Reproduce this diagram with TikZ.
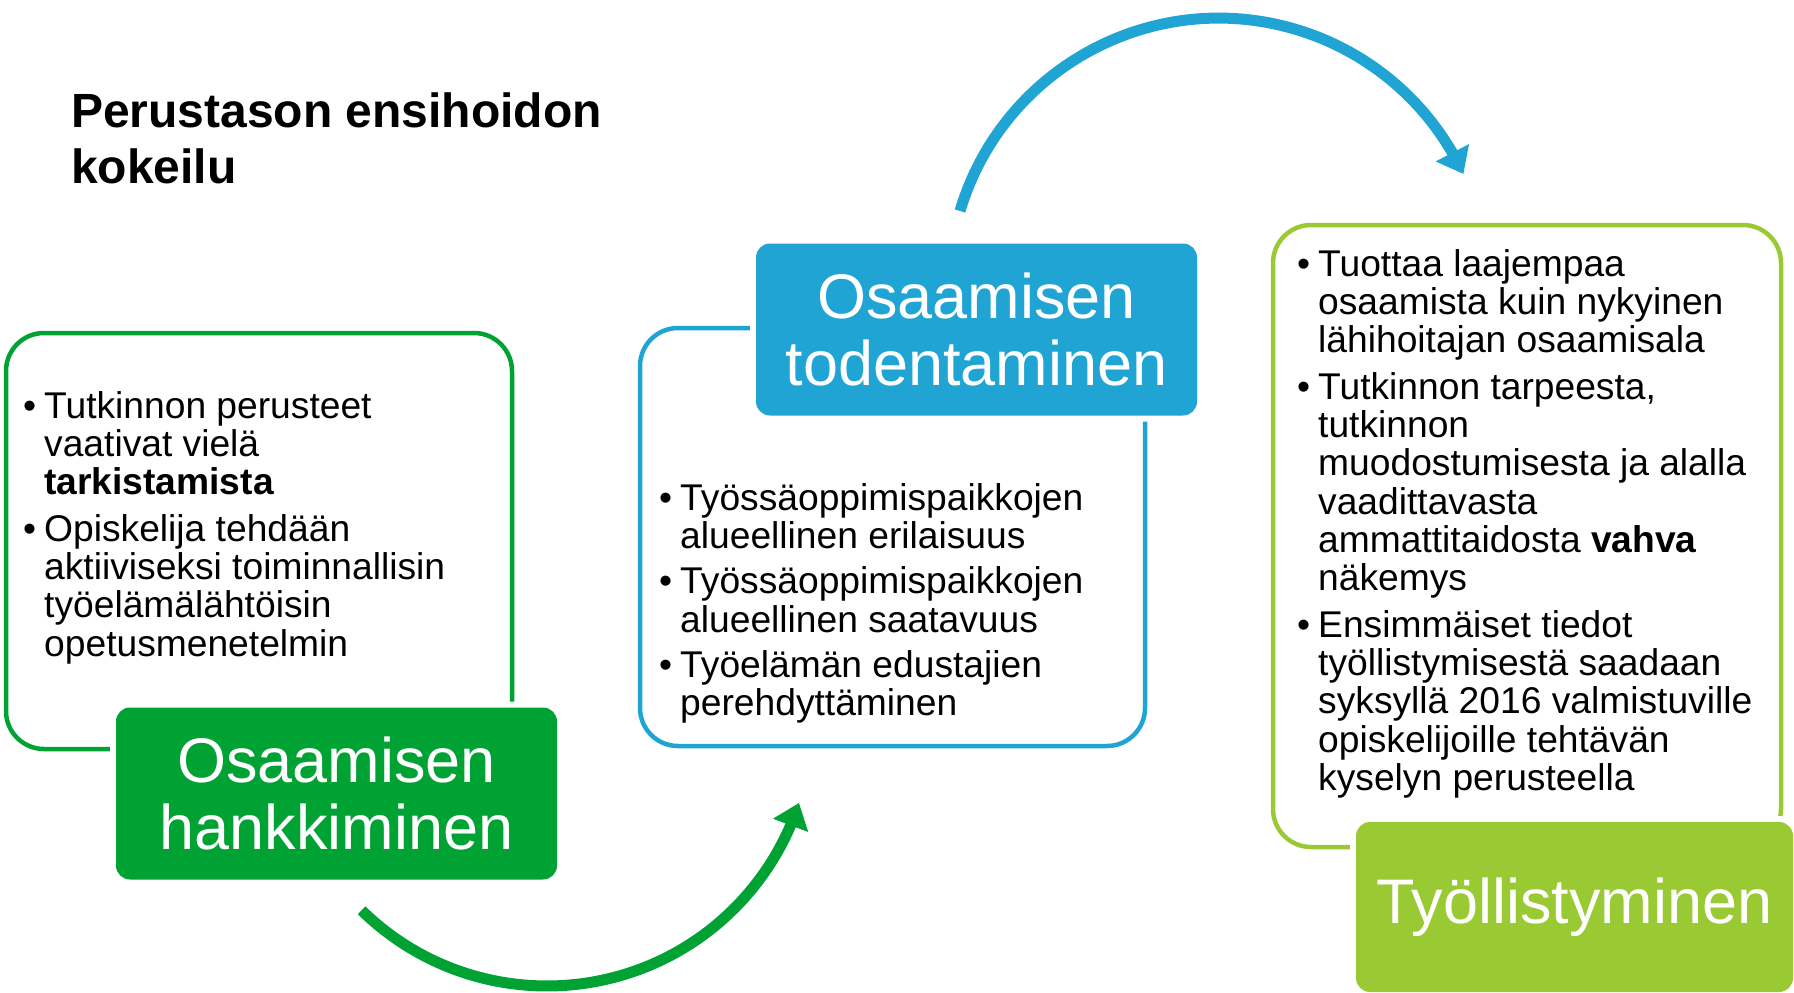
\documentclass[tikz,border=0pt]{standalone}
\usepackage{fontspec}
\setmainfont{Liberation Sans}
\usetikzlibrary{arrows.meta,bending}
\definecolor{hgreen}{RGB}{0,163,51}
\definecolor{hblue}{RGB}{31,164,211}
\definecolor{hlime}{RGB}{153,202,51}
\newcommand{\bul}{\makebox[21pt][l]{•}}

\begin{document}
\begin{tikzpicture}[x=1pt,y=-1pt,
    outbox/.style={draw,line width=4.5pt,rounded corners=38pt,inner sep=0pt},
    phasebox/.style={fill=#1,text=white,rounded corners=14pt,inner sep=0pt,
        minimum width=441pt,minimum height=172pt,align=center,
        font=\fontsize{63}{67}\selectfont,preaction={draw=white,line width=12pt}},
    bodytext/.style={anchor=base west,inner sep=0pt,font=\fontsize{37.2}{38}\selectfont},
    arrowline/.style={line width=11pt,-{Triangle[width=36pt,length=24pt]}}]
    \useasboundingbox (0,0) rectangle (1794,993);
    \clip (0,0) rectangle (1794,993);

    \node[anchor=base west,inner sep=0pt,font=\fontsize{48}{56}\selectfont\bfseries] (title) at (71,127)
        {\begin{tabular}[t]{@{}l@{}}Perustason ensihoidon\\ kokeilu\end{tabular}};

    \node[outbox,hgreen,minimum width=506pt,minimum height=416pt] (hankframe) at (259,541) {};
    \node[outbox,hblue,minimum width=505pt,minimum height=418pt] (todenframe) at (892.5,537) {};
    \node[outbox,hlime,minimum width=508pt,minimum height=622pt] (tyollframe) at (1527,536) {};

    \node[phasebox=hgreen] (hank) at (336.5,793.5) {Osaamisen\\hankkiminen};
    \node[phasebox=hblue] (toden) at (976.5,329.5) {Osaamisen\\todentaminen};
    \node[phasebox=hlime,minimum width=437pt,minimum height=170pt] (tyoll) at (1574.5,907) {Työllistyminen};

    \node[bodytext] (hanktext) at (23,418) {\begin{tabular}[t]{@{}l@{}l@{}}
        \bul & Tutkinnon perusteet\\
             & vaativat vielä\\
             & \textbf{tarkistamista}\\[8pt]
        \bul & Opiskelija tehdään\\
             & aktiiviseksi toiminnallisin\\
             & työelämälähtöisin\\
             & opetusmenetelmin
        \end{tabular}};
    \node[bodytext] (todentext) at (659,510) {\begin{tabular}[t]{@{}l@{}l@{}}
        \bul & Työssäoppimispaikkojen\\
             & alueellinen erilaisuus\\[7pt]
        \bul & Työssäoppimispaikkojen\\
             & alueellinen saatavuus\\[7pt]
        \bul & Työelämän edustajien\\
             & perehdyttäminen
        \end{tabular}};
    \node[bodytext] (tyolltext) at (1297,276) {\begin{tabular}[t]{@{}l@{}l@{}}
        \bul & Tuottaa laajempaa\\
             & osaamista kuin nykyinen\\
             & lähihoitajan osaamisala\\[8pt]
        \bul & Tutkinnon tarpeesta,\\
             & tutkinnon\\
             & muodostumisesta ja alalla\\
             & vaadittavasta\\
             & ammattitaidosta \textbf{vahva}\\
             & näkemys\\[8pt]
        \bul & Ensimmäiset tiedot\\
             & työllistymisestä saadaan\\
             & syksyllä 2016 valmistuville\\
             & opiskelijoille tehtävän\\
             & kyselyn perusteella
        \end{tabular}};

    \coordinate (gstart) at (361.6,910.3);
    \coordinate (bstart) at (960,211);
    \draw[arrowline,hgreen] (gstart) arc[start angle=134.4,end angle=18,radius=265];
    \draw[arrowline,hblue] (bstart) arc[start angle=-163.4,end angle=-25,radius=270];
\end{tikzpicture}
\end{document}
